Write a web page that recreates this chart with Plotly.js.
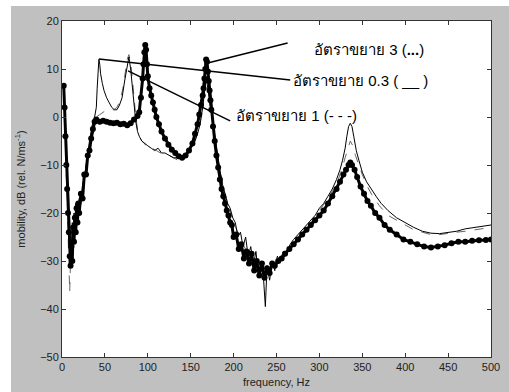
<!DOCTYPE html>
<html><head><meta charset="utf-8">
<script src="https://cdn.plot.ly/plotly-3.0.1.min.js"></script>
<style>
html,body{margin:0;padding:0;background:#ffffff;width:509px;height:392px;overflow:hidden}
#chart{position:absolute;left:11px;top:6px;width:498px;height:386px}
</style>
</head><body><div id="chart"></div>
<script>
// ratio 3 (dotted, thick dots)
const freq3 = [
  2,3,4,5,6,7,8,9,10,11,
  12,13,14,15,16,17,18,19,20,22,
  24,26,28,30,32,34,36,38,40,44,
  48,52,56,60,64,68,72,76,80,84,
  88,90,92,94,95,96,97,98,99,100,
  102,104,106,108,110,113,116,120,124,128,
  132,136,140,144,148,152,155,158,160,162,
  164,165,166,167,168,169,170,171,172,173,
  174,176,178,180,182,184,186,188,190,192,
  194,196,198,200,203,206,209,212,215,218,
  221,224,227,230,233,236,239,242,245,248,
  252,256,260,265,270,275,280,285,290,295,
  300,305,310,315,320,324,328,331,334,336,
  338,341,344,348,352,356,360,365,370,376,
  382,390,398,406,414,422,430,438,446,454,
  462,470,478,486,494,500];
const mob3 = [
  6.5,2,-4,-10,-15,-20,-24,-29,-31,-27,
  -30,-23,-26,-21,-24,-19,-22,-18,-20,-16,
  -17,-12,-12,-8,-7,-4.5,-2.5,-1,-0.5,-1,
  -0.8,-1,-1.2,-1.3,-1.2,-1.5,-1.4,-1.7,-1.3,-0.5,
  0.2,1,4,8,11,13.5,15,14,11,8.5,
  6,4.5,3,1.5,0,-1.5,-3,-4.5,-5.8,-6.8,
  -7.5,-8.2,-8.5,-8,-7,-5.5,-3.5,-1.5,0.5,2.5,
  4.5,6,8,10,12,11.5,9.5,7.5,5.5,3.5,
  1.5,-2,-5,-8,-10.5,-13,-15,-16.5,-18,-19.5,
  -20.5,-22,-22.5,-25,-24.5,-27.5,-26.5,-29.5,-28,-30.5,
  -28.5,-32,-30,-33,-30.5,-33.5,-31.5,-32.5,-30.5,-31,
  -30,-29.5,-28.5,-27.5,-26.5,-25.5,-24.5,-23.5,-22.5,-21.5,
  -20.5,-19.5,-18,-16.5,-15,-13.5,-12,-11,-10,-9.5,
  -10,-11,-12.5,-14.5,-16,-17.5,-18.5,-20,-21,-22.5,
  -23.5,-24.5,-25.5,-26,-26.5,-27,-27.2,-27,-26.7,-26.3,
  -26,-26,-25.8,-25.7,-25.6,-25.5];

// ratio 0.3 (solid thin)
const freq03 = [
  5,7,8,9,10,11,12,13,14,15,
  16,18,20,22,24,26,28,30,32,34,
  36,38,40,41,42,43,44,45,47,49,
  52,55,58,61,64,67,70,73,76,78,
  80,82,84,86,88,90,93,96,100,104,
  108,112,116,120,125,130,135,140,145,150,
  155,158,161,164,166,168,170,172,175,178,
  181,184,187,190,193,196,199,202,205,208,
  211,214,217,220,223,226,229,232,235,237,
  239,242,245,248,251,254,258,262,266,270,
  275,280,285,290,295,300,305,310,315,320,
  324,327,330,332,334,336,338,340,343,346,
  350,355,360,366,372,380,390,400,410,420,
  430,440,450,460,470,480,490,500];
const mob03 = [
  -12,-22,-28,-30,-25,-28,-22,-26,-20,-22,
  -18,-21,-17,-18,-14,-13,-10,-8,-5,-3,
  -1,0,2,6,10,12,11,9,7,5.5,
  4,3,2,1.5,1.5,2.5,4,7.5,11,12.5,
  10,6,2,-1,-3,-4,-5,-5.5,-6,-6.5,
  -7,-6.5,-7.5,-7.5,-8,-8.5,-8.5,-8.8,-8,-6.5,
  -5,-3.5,-1.5,2,5,8,6,3,0,-4,
  -8,-11,-14,-16,-18,-19,-21,-22,-25,-24,
  -27,-25,-29,-27,-31,-28,-33,-30,-34,-39.5,
  -31,-34,-30,-32,-29,-30,-28,-28,-26.5,-25.5,
  -24.5,-23.5,-22.5,-21.5,-20.5,-19,-18,-16.5,-15,-13,
  -11,-9,-6.5,-4,-2,-1.3,-2,-4,-7,-9,
  -11.5,-13.5,-15,-16.5,-18,-19.5,-21,-22,-23,-23.8,
  -24.2,-24.3,-24,-23.8,-23.3,-23,-22.7,-22.5];

// ratio 1 (dashed)
const freq1 = [
  6,8,9,10,11,12,14,16,18,20,
  22,24,26,28,30,32,34,36,38,40,
  44,48,52,56,60,64,68,71,74,76,
  78,80,82,84,86,88,90,93,96,100,
  105,110,115,120,125,130,135,140,145,150,
  155,160,163,166,168,170,173,176,180,185,
  190,195,200,205,210,215,220,225,230,235,
  240,245,250,255,260,270,280,290,300,310,
  320,326,330,333,336,339,342,346,350,356,
  362,370,380,390,400,410,420,430,440,450,
  460,470,480,490,500];
const mob1 = [
  -18,-30,-36.5,-29,-32,-24,-25,-21,-20,-18,
  -16,-15,-12,-11,-8,-6,-4,-2,-1,0,
  0.5,1,1.5,1.5,1.5,2,3.5,6,10,12,
  13,11.5,8,3.5,0,-2.5,-4,-5,-5.5,-6.5,
  -6.5,-7,-7.5,-8,-8,-8.5,-9,-9,-8,-7,
  -5,-2,1,5,8,6,2,-2,-7,-12,
  -16,-19,-22,-24,-26,-28,-29,-31,-32,-33,
  -32,-31.5,-30,-29.5,-28.5,-26,-24,-22,-19.5,-17,
  -14,-11,-8.5,-6.5,-5,-6,-8,-10,-12,-14.5,
  -16.5,-18.5,-20.5,-21.5,-22.5,-23.5,-24,-24.5,-24.5,-24.2,
  -24,-23.8,-23.5,-23.2,-23];

const xTicks = [0,50,100,150,200,250,300,350,400,450,500];
const yTicks = [-50,-40,-30,-20,-10,0,10,20];

const labelTexts = [
  'อัตราขยาย 3 (<b>...</b>)',
  'อัตราขยาย 0.3 ( __ )',
  'อัตราขยาย 1 (- - -)'
];

const FONT = 'Liberation Sans, Arial, Helvetica, sans-serif';

const traces = [
  {x: freq1, y: mob1, mode: 'lines', line: {color: '#666666', width: 1, dash: 'dash'}, hoverinfo: 'skip'},
  {x: freq03, y: mob03, mode: 'lines', line: {color: '#000000', width: 1}, hoverinfo: 'skip'},
  {x: freq3, y: mob3, mode: 'lines+markers', line: {color: '#000000', width: 3}, marker: {color: '#000000', size: 6}, hoverinfo: 'skip'}
];

// leader lines: from the curve feature to the label
const leaders = [
  {x0: 171, y0: 11.3, x1: 263, y1: 15.4},
  {x0: 43, y0: 12.1, x1: 266, y1: 7.7},
  {x0: 77, y0: 9.6, x1: 196, y1: -0.8}
];
const labelPos = [
  {x: 291, y: 14.0},
  {x: 267, y: 7.7},
  {x: 200, y: 0.4}
];

const axisCommon = {
  showgrid: false, zeroline: false, showline: true, mirror: 'ticks',
  linecolor: '#333333', linewidth: 1, ticks: 'inside', ticklen: 4, tickcolor: '#333333',
  tickfont: {family: FONT, size: 11, color: '#222222'}
};

const layout = {
  width: 498, height: 386,
  paper_bgcolor: '#c0c0c0', plot_bgcolor: '#ffffff',
  margin: {l: 51, r: 18, t: 15, b: 35},
  showlegend: false,
  xaxis: Object.assign({}, axisCommon, {
    range: [0, 500], tickvals: xTicks,
    title: {text: 'frequency, Hz', font: {family: FONT, size: 11, color: '#222222'}, standoff: 6}
  }),
  yaxis: Object.assign({}, axisCommon, {
    range: [-50, 20], tickvals: yTicks,
    title: {text: 'mobility, dB (rel. N/ms<sup>-1</sup>)', font: {family: FONT, size: 11, color: '#222222'}, standoff: 12}
  }),
  shapes: leaders.map(l => ({type: 'line', xref: 'x', yref: 'y', x0: l.x0, y0: l.y0, x1: l.x1, y1: l.y1,
    line: {color: '#000000', width: 1.5}})),
  annotations: labelTexts.map((t, i) => ({
    text: t, x: labelPos[i].x, y: labelPos[i].y, xref: 'x', yref: 'y',
    xanchor: 'left', yanchor: 'middle', showarrow: false,
    font: {family: FONT, size: 15, color: '#000000'}
  }))
};

Plotly.newPlot('chart', traces, layout, {displayModeBar: false, staticPlot: true});
</script>
</body></html>
